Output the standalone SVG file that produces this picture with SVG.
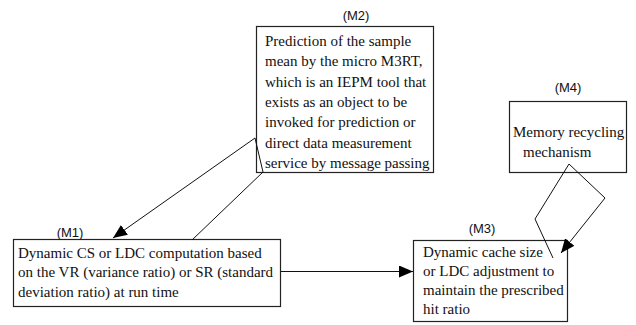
<svg xmlns="http://www.w3.org/2000/svg" width="636" height="325" viewBox="0 0 636 325">
<defs>
<style>
.box{fill:#fff;stroke:#222;stroke-width:1.2}
.tx{font-size:15px;fill:#111}
.lbl{font-size:13px;fill:#111;text-anchor:middle}
.c{fill:none;stroke:#111;stroke-width:1}
</style>
<marker id="ah" viewBox="0 0 14 12" refX="14" refY="6" markerWidth="14" markerHeight="12" markerUnits="userSpaceOnUse" orient="auto">
<path d="M0,0 L14,6 L0,12 Z" fill="#000"/>
</marker>
</defs>
<rect width="636" height="325" fill="#fff"/>
<g id="M2">
<text class="lbl" x="356" y="20" style="font-family:'Liberation Sans'">(M2)</text>
<rect class="box" x="256.5" y="26.5" width="177" height="146"/>
<text class="tx" style="font-family:'Liberation Serif'" x="265" y="46">Prediction of the sample</text>
<text class="tx" style="font-family:'Liberation Serif'" x="265" y="66">mean by the micro M3RT,</text>
<text class="tx" style="font-family:'Liberation Serif'" x="265" y="87">which is an IEPM tool that</text>
<text class="tx" style="font-family:'Liberation Serif'" x="265" y="107">exists as an object to be</text>
<text class="tx" style="font-family:'Liberation Serif'" x="265" y="127">invoked for prediction or</text>
<text class="tx" style="font-family:'Liberation Serif'" x="265" y="148">direct data measurement</text>
<text class="tx" style="font-family:'Liberation Serif'" x="265" y="168">service by message passing</text>
</g>
<g id="M1">
<text class="lbl" x="70" y="237" style="font-family:'Liberation Sans'">(M1)</text>
<rect class="box" x="13.5" y="239.5" width="267" height="67"/>
<text class="tx" style="font-family:'Liberation Serif'" x="18" y="258">Dynamic CS or LDC computation based</text>
<text class="tx" style="font-family:'Liberation Serif'" x="18" y="277">on the VR (variance ratio) or SR (standard</text>
<text class="tx" style="font-family:'Liberation Serif'" x="18" y="297">deviation ratio) at run time</text>
</g>
<g id="M3">
<text class="lbl" x="482" y="233" style="font-family:'Liberation Sans'">(M3)</text>
<rect class="box" x="413.5" y="240.5" width="154" height="81"/>
<text class="tx" style="font-family:'Liberation Serif'" x="423" y="257">Dynamic cache size</text>
<text class="tx" style="font-family:'Liberation Serif'" x="423" y="276">or LDC adjustment to</text>
<text class="tx" style="font-family:'Liberation Serif'" x="423" y="295">maintain the prescribed</text>
<text class="tx" style="font-family:'Liberation Serif'" x="423" y="314">hit ratio</text>
</g>
<g id="M4">
<text class="lbl" x="568" y="92" style="font-family:'Liberation Sans'">(M4)</text>
<rect class="box" x="509.5" y="101.5" width="117" height="71"/>
<text class="tx" style="font-family:'Liberation Serif'" x="513" y="137">Memory recycling</text>
<text class="tx" style="font-family:'Liberation Serif'" x="523" y="157">mechanism</text>
</g>
<g id="connectors">
<path class="c" d="M192,240 L263,172 L255,138 L113,238" marker-end="url(#ah)"/>
<path class="c" d="M281,271.5 L413,271.5" marker-end="url(#ah)"/>
<path class="c" d="M553,258 L535,219 L569,164 L605,198 L561,253" marker-end="url(#ah)"/>
</g>
</svg>
